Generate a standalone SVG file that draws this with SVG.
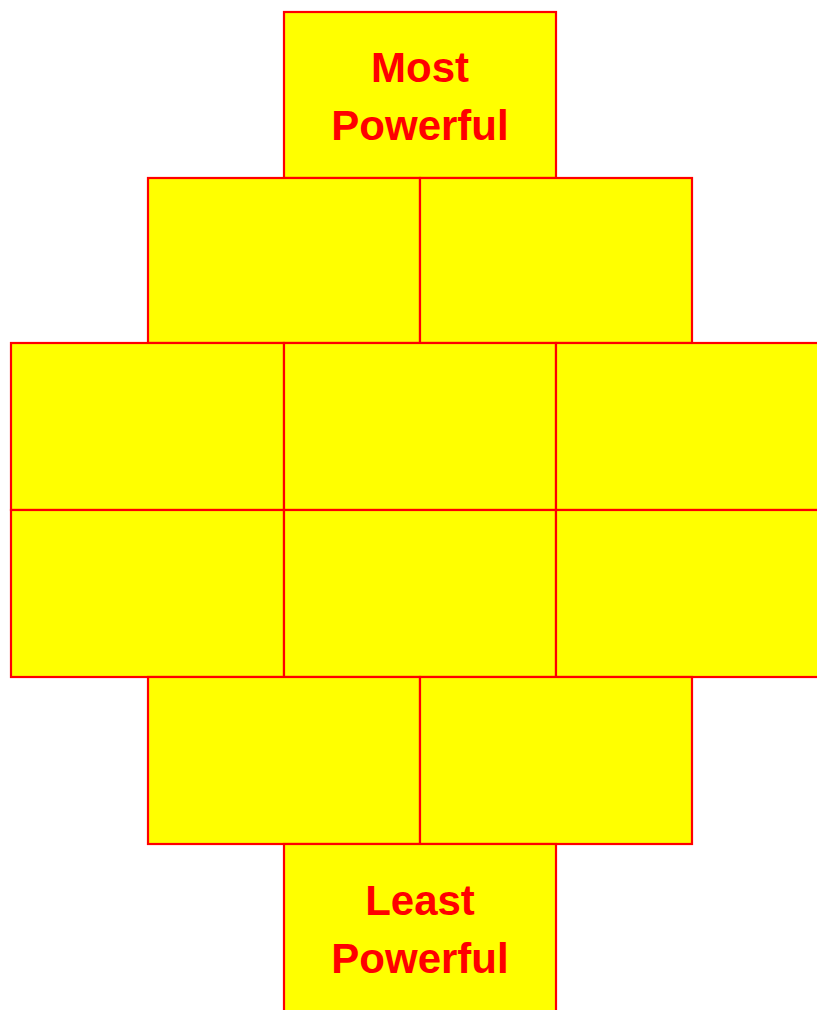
<svg xmlns="http://www.w3.org/2000/svg" width="817" height="1010" viewBox="0 0 817 1010">
<style>
.b{fill:#FFFF00;stroke:#FF0000;stroke-width:2.2}
.t{font-family:"Liberation Sans",Arial,sans-serif;font-weight:bold;font-size:42px;fill:#FF0000;text-anchor:middle}
</style>
<rect width="817" height="1010" fill="#FFFFFF"/>
<g id="n0"><rect class="b" x="284" y="12" width="272" height="166"/><text class="t" x="420" y="82">Most</text><text class="t" x="420" y="140">Powerful</text></g>
<g id="n1"><rect class="b" x="148" y="178" width="272" height="165"/></g>
<g id="n2"><rect class="b" x="420" y="178" width="272" height="165"/></g>
<g id="n3"><rect class="b" x="11" y="343" width="273" height="167"/></g>
<g id="n4"><rect class="b" x="284" y="343" width="272" height="167"/></g>
<g id="n5"><rect class="b" x="556" y="343" width="272" height="167"/></g>
<g id="n6"><rect class="b" x="11" y="510" width="273" height="167"/></g>
<g id="n7"><rect class="b" x="284" y="510" width="272" height="167"/></g>
<g id="n8"><rect class="b" x="556" y="510" width="272" height="167"/></g>
<g id="n9"><rect class="b" x="148" y="677" width="272" height="167"/></g>
<g id="n10"><rect class="b" x="420" y="677" width="272" height="167"/></g>
<g id="n11"><rect class="b" x="284" y="844" width="272" height="170"/><text class="t" x="420" y="915">Least</text><text class="t" x="420" y="973">Powerful</text></g>
<g id="connectors"></g>
</svg>
